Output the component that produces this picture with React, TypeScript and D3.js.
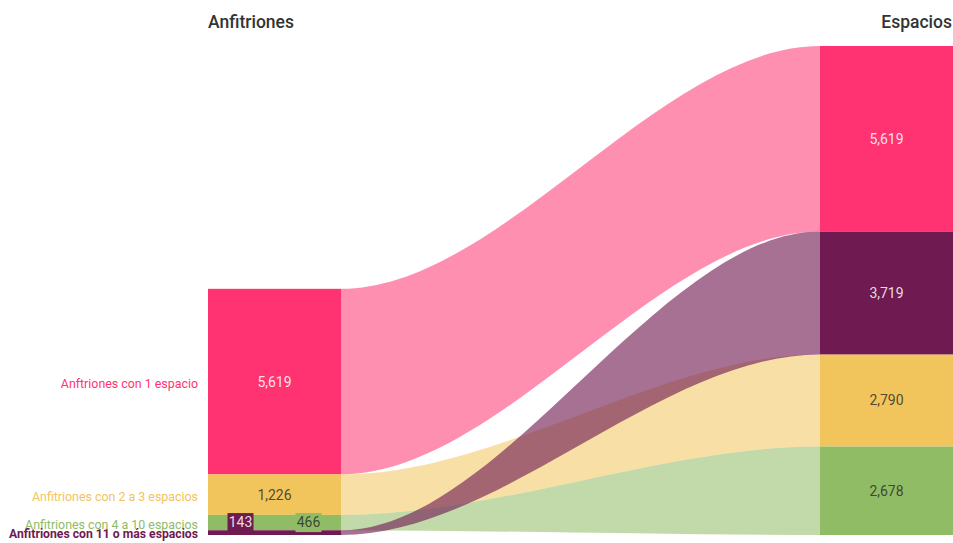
import React from "react";
import * as d3 from "d3";

const categories = [
  "Anftriones con 1 espacio",
  "Anfitriones con 2 a 3 espacios",
  "Anfitriones con 4 a 10 espacios",
  "Anfitriones con 11 o más espacios",
];
const hostValues = [5619, 1226, 466, 143];
const spaceValues = [5619, 2790, 2678, 3719];
const rightOrder = [0, 3, 1, 2];
const colors = ["#FF3371", "#F2C45C", "#8FBC64", "#6F1A50"];
const columnTitles = ["Anfitriones", "Espacios"];

const W = 953;
const H = 543;
const FONT = "Roboto, 'Noto Sans', sans-serif";

function linkPath(sx: number, sy0: number, sy1: number, tx: number, ty0: number, ty1: number) {
  const d = (tx - sx) / 3;
  const c1 = sx + d;
  const c2 = tx - d;
  const p = d3.path();
  p.moveTo(sx, sy0);
  p.bezierCurveTo(c1, sy0, c2, ty0, tx, ty0);
  p.lineTo(tx, ty1);
  p.bezierCurveTo(c2, ty1, c1, sy1, sx, sy1);
  p.closePath();
  return p.toString();
}

export default function App() {
  const totalRight = d3.sum(spaceValues);
  const y = d3.scaleLinear().domain([0, totalRight]).range([535, 46]);
  const fmt = d3.format(",");

  const leftX0 = 208, leftX1 = 341, rightX0 = 820, rightX1 = 953;

  const left: { y0: number; y1: number }[] = [];
  let acc = 0;
  for (let i = categories.length - 1; i >= 0; i--) {
    left[i] = { y0: y(acc + hostValues[i]), y1: y(acc) };
    acc += hostValues[i];
  }
  const right: { y0: number; y1: number }[] = [];
  acc = 0;
  for (let j = rightOrder.length - 1; j >= 0; j--) {
    const i = rightOrder[j];
    right[i] = { y0: y(acc + spaceValues[i]), y1: y(acc) };
    acc += spaceValues[i];
  }

  const linkOpacity = [0.55, 0.55, 0.55, 0.62];
  const darkText = "rgba(40,40,40,0.8)";
  const lightText = "rgba(255,255,255,0.85)";
  const textColor = [lightText, darkText, darkText, lightText];

  const greenMid = (left[2].y0 + left[2].y1) / 2;
  const leftMidX = (leftX0 + leftX1) / 2;
  const rightMidX = (rightX0 + rightX1) / 2;

  return (
    <svg
      width={W}
      height={H}
      style={{ position: "absolute", left: 0, top: 0, display: "block", fontFamily: FONT }}
    >
      <rect width={W} height={H} fill="#ffffff" />
      <text x={leftX0} y={28} fontSize={17.5} fontWeight={500} fill="#333">
        {columnTitles[0]}
      </text>
      <text x={rightX1 - 1} y={28} fontSize={17.5} fontWeight={500} fill="#333" textAnchor="end">
        {columnTitles[1]}
      </text>

      {categories.map((c, i) => (
        <path
          key={"l" + i}
          d={linkPath(leftX1, left[i].y0, left[i].y1, rightX0, right[i].y0, right[i].y1)}
          fill={colors[i]}
          fillOpacity={linkOpacity[i]}
        />
      ))}

      {categories.map((c, i) => (
        <g key={"n" + i}>
          <rect x={leftX0} y={left[i].y0} width={leftX1 - leftX0} height={left[i].y1 - left[i].y0} fill={colors[i]} />
          <rect x={rightX0} y={right[i].y0} width={rightX1 - rightX0} height={right[i].y1 - right[i].y0} fill={colors[i]} />
        </g>
      ))}

      {categories.map((c, i) => (
        <text
          key={"c" + i}
          x={leftX0 - 10}
          y={(left[i].y0 + left[i].y1) / 2 + (i === 3 ? 5 : 6)}
          textAnchor="end"
          fontSize={i === 3 ? 12.2 : 12.4}
          fontWeight={i === 3 ? 700 : 400}
          fill={colors[i]}
        >
          {c}
        </text>
      ))}

      {categories.map((c, i) => {
        let cx = leftMidX;
        let cy = (left[i].y0 + left[i].y1) / 2;
        let box = false;
        if (i === 2) { cx = leftMidX + 34; cy = greenMid; box = true; }
        if (i === 3) { cx = leftMidX - 34; cy = greenMid; box = true; }
        return (
          <g key={"v" + i}>
            {box && <rect x={cx - 13} y={cy - 9.5} width={26} height={19} fill={colors[i]} />}
            <text x={cx} y={cy} dy="0.35em" textAnchor="middle" fontSize={14} fill={textColor[i]}>
              {fmt(hostValues[i])}
            </text>
          </g>
        );
      })}

      {categories.map((c, i) => (
        <text
          key={"r" + i}
          x={rightMidX}
          y={(right[i].y0 + right[i].y1) / 2}
          dy="0.35em"
          textAnchor="middle"
          fontSize={14}
          fill={textColor[i]}
        >
          {fmt(spaceValues[i])}
        </text>
      ))}
    </svg>
  );
}
